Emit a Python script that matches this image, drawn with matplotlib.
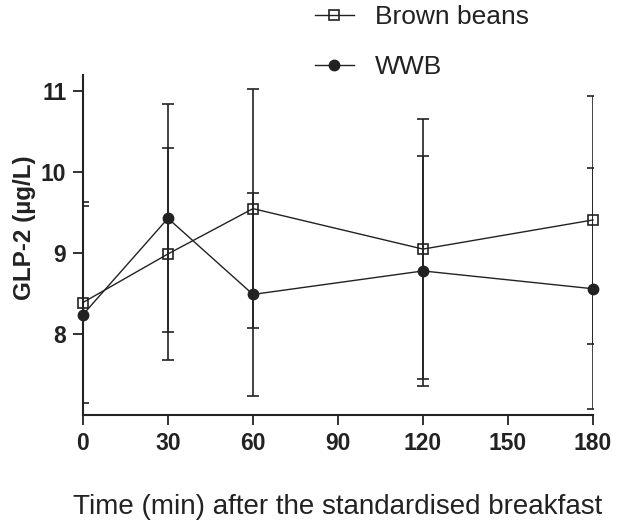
import matplotlib.pyplot as plt

plt.rcParams['font.family'] = ['Liberation Sans', 'DejaVu Sans']

# data (mean +/- SD)
time_min = [0, 30, 60, 120, 180]
brown_mean = [8.39, 8.99, 9.55, 9.05, 9.41]
brown_sd = [1.24, 1.31, 1.48, 1.61, 1.53]
wwb_mean = [8.24, 9.43, 8.49, 8.78, 8.56]
wwb_sd = [1.34, 1.41, 1.25, 1.42, 1.49]
x_ticks = [0, 30, 60, 90, 120, 150, 180]
y_ticks = [8, 9, 10, 11]

ink = '#222222'

fig = plt.figure(figsize=(6.19, 5.25), dpi=100)
ax = fig.add_axes([0.134, 0.2095, 0.824, 0.6475])

# error bars are clipped at the axes, markers are not
for mean, sd in [(brown_mean, brown_sd), (wwb_mean, wwb_sd)]:
    ax.errorbar(time_min, mean, yerr=sd, fmt='none', ecolor=ink,
                elinewidth=1.2, capsize=4.5, capthick=1.2)

l1, = ax.plot(time_min, brown_mean, color=ink, lw=1.0, marker='s', ms=7.5,
              mfc='none', mec=ink, mew=1.2, clip_on=False, zorder=3,
              label='Brown beans')
l2, = ax.plot(time_min, wwb_mean, color=ink, lw=1.0, marker='o', ms=7.5,
              mfc=ink, mec=ink, clip_on=False, zorder=3, label='WWB')

ax.set_xlim(0, 180)
ax.set_ylim(7.0, 11.2)
ax.set_xticks(x_ticks)
ax.set_yticks(y_ticks)
for side in ['top', 'right']:
    ax.spines[side].set_visible(False)
for side in ['left', 'bottom']:
    ax.spines[side].set_linewidth(1.5)
    ax.spines[side].set_color(ink)
ax.tick_params(direction='out', length=7, width=1.3, color=ink,
               labelsize=16.5, pad=5, labelcolor=ink)
for lab in ax.get_xticklabels() + ax.get_yticklabels():
    lab.set_fontweight('bold')

ax.set_xlabel('Time (min) after the standardised breakfast',
              fontsize=20, color=ink, labelpad=28)
ax.set_ylabel('GLP-2 (µg/L)', fontsize=17.5, fontweight='bold', color=ink)
ax.yaxis.set_label_coords(-0.092, 0.551)

fig.legend([l1, l2], ['Brown beans', 'WWB'], loc='upper left',
           bbox_to_anchor=(0.471, 1.035), frameon=False, fontsize=19,
           handlelength=1.45, labelspacing=0.98, handletextpad=0.8,
           labelcolor=ink)

fig.savefig('out.png', dpi=100)
